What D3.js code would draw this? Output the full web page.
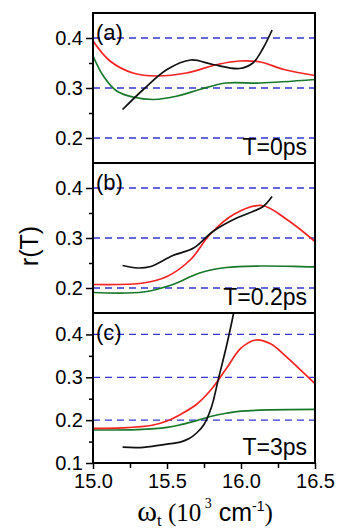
<!DOCTYPE html>
<meta charset="utf-8">
<script src="https://cdn.jsdelivr.net/npm/d3@7"></script>
<style>
body { margin: 0; background: #fff; }
svg text { font-family: "Liberation Sans", Arial, sans-serif; fill: #000; }
.axis path, .axis line { stroke: #000; stroke-width: 1.5px; }
.axis text { font-size: 20px; }
.grid { stroke: #3535d0; stroke-width: 1.3px; stroke-dasharray: 7,5; }
.curve { fill: none; stroke-width: 1.7px; }
</style>
<body>
<script>

// x values in 10^3 cm^-1, y values r(T)
var xTicks = [15.0, 15.5, 16.0, 16.5],
    xMinor = [15.25, 15.75, 16.25],
    gridVals = [0.2, 0.3, 0.4];

// panel (a) T=0ps
var redA = [[15.0,0.394],[15.115,0.354],[15.27,0.330],[15.43,0.324],[15.63,0.330],[15.84,0.347],[15.99,0.354],[16.13,0.352],[16.29,0.337],[16.5,0.325]];
var greenA = [[15.0,0.364],[15.07,0.324],[15.16,0.294],[15.27,0.282],[15.41,0.277],[15.57,0.284],[15.72,0.297],[15.9,0.310],[16.13,0.310],[16.5,0.317]];
var blackA = [[15.2,0.257],[15.34,0.297],[15.5,0.337],[15.66,0.356],[15.81,0.347],[15.99,0.339],[16.08,0.350],[16.15,0.380],[16.21,0.416]];

// panel (b) T=0.2ps
var redB = [[15.0,0.207],[15.34,0.210],[15.5,0.223],[15.66,0.257],[15.79,0.307],[15.95,0.347],[16.14,0.365],[16.31,0.337],[16.5,0.293]];
var greenB = [[15.0,0.191],[15.34,0.192],[15.54,0.207],[15.72,0.230],[15.9,0.241],[16.13,0.244],[16.5,0.242]];
var blackB = [[15.2,0.245],[15.3,0.240],[15.39,0.243],[15.54,0.265],[15.68,0.280],[15.81,0.313],[15.95,0.337],[16.08,0.353],[16.15,0.363],[16.21,0.383]];

// panel (c) T=3ps
var redC = [[15.0,0.181],[15.2,0.182],[15.4,0.188],[15.5,0.198],[15.6,0.215],[15.7,0.237],[15.8,0.272],[15.9,0.320],[16.0,0.368],[16.1,0.387],[16.2,0.378],[16.3,0.350],[16.4,0.318],[16.5,0.285]];
var greenC = [[15.0,0.177],[15.3,0.178],[15.5,0.183],[15.6,0.190],[15.7,0.199],[15.8,0.209],[15.9,0.216],[16.0,0.221],[16.2,0.224],[16.5,0.225]];
var blackC = [[15.2,0.137],[15.3,0.136],[15.4,0.139],[15.5,0.144],[15.6,0.150],[15.65,0.157],[15.7,0.170],[15.75,0.190],[15.8,0.230],[15.85,0.300],[15.9,0.370],[15.95,0.450],[15.97,0.490]];

var panels = [
  {id: "a", label: "(a)", title: "T=0ps", yDomain: [0.15, 0.45], yTicks: [0.2, 0.3, 0.4], yMinor: [0.25, 0.35], red: redA, green: greenA, black: blackA},
  {id: "b", label: "(b)", title: "T=0.2ps", yDomain: [0.15, 0.45], yTicks: [0.2, 0.3, 0.4], yMinor: [0.25, 0.35], red: redB, green: greenB, black: blackB},
  {id: "c", label: "(c)", title: "T=3ps", yDomain: [0.1, 0.45], yTicks: [0.1, 0.2, 0.3, 0.4], yMinor: [0.15, 0.25, 0.35], red: redC, green: greenC, black: blackC}
];

var w = 339, h = 531,
    padLeft = 93, padRight = 315, padTop = 13, panelH = 150;

var svg = d3.select("body").append("svg")
    .attr("width", w)
    .attr("height", h);

var x = d3.scaleLinear().domain([15.0, 16.5]).range([padLeft, padRight]);

var line = d3.line().curve(d3.curveCatmullRom.alpha(0.5));

panels.forEach(function(p, i) {
  var y0 = padTop + i * panelH;
  var y = d3.scaleLinear().domain(p.yDomain).range([y0 + panelH, y0]);
  line.x(function(d) { return x(d[0]); }).y(function(d) { return y(d[1]); });

  svg.append("clipPath").attr("id", "clip" + p.id)
    .append("rect").attr("x", padLeft).attr("y", y0).attr("width", padRight - padLeft).attr("height", panelH);

  var g = svg.append("g");

  g.selectAll(".grid").data(gridVals).enter().append("line")
    .attr("class", "grid")
    .attr("x1", padLeft).attr("x2", padRight)
    .attr("y1", function(d) { return y(d); })
    .attr("y2", function(d) { return y(d); });

  var cg = g.append("g").attr("clip-path", "url(#clip" + p.id + ")");
  cg.append("path").datum(p.green).attr("class", "curve").attr("stroke", "#17782b").attr("stroke-width", 2.2).attr("d", line);
  cg.append("path").datum(p.red).attr("class", "curve").attr("stroke", "#f52222").attr("d", line);
  cg.append("path").datum(p.black).attr("class", "curve").attr("stroke", "#111").attr("d", line);

  // y axis: major + minor
  g.append("g").attr("class", "axis")
    .attr("transform", "translate(" + padLeft + ",0)")
    .call(d3.axisLeft(y).tickValues(p.yTicks).tickSize(7).tickPadding(3).tickFormat(d3.format(".1f")))
    .call(function(s) { s.select(".domain").remove(); });
  g.append("g").attr("class", "axis")
    .attr("transform", "translate(" + padLeft + ",0)")
    .call(d3.axisLeft(y).tickValues(p.yMinor).tickSize(4).tickFormat(""))
    .call(function(s) { s.select(".domain").remove(); });

  // frame
  g.append("rect")
    .attr("x", padLeft).attr("y", y0)
    .attr("width", padRight - padLeft).attr("height", panelH)
    .attr("fill", "none").attr("stroke", "#000").attr("stroke-width", 2);

  g.append("text")
    .attr("x", padLeft + 3).attr("y", y0 + 27)
    .style("font-size", "22px")
    .text(p.label);

  g.append("text")
    .attr("x", 307).attr("y", y0 + 142)
    .attr("text-anchor", "end")
    .style("font-size", "23px")
    .text(p.title);

  if (i == 2) {
    g.append("g").attr("class", "axis")
      .attr("transform", "translate(0," + (y0 + panelH) + ")")
      .call(d3.axisBottom(x).tickValues(xTicks).tickSize(6).tickPadding(5).tickFormat(d3.format(".1f")))
      .call(function(s) { s.select(".domain").remove(); });
    g.append("g").attr("class", "axis")
      .attr("transform", "translate(0," + (y0 + panelH) + ")")
      .call(d3.axisBottom(x).tickValues(xMinor).tickSize(5).tickFormat(""))
      .call(function(s) { s.select(".domain").remove(); });
  }
});

// axis titles
svg.append("text")
  .attr("transform", "translate(38,246) rotate(-90)")
  .attr("text-anchor", "middle")
  .style("font-size", "25px")
  .text("r(T)");

var xl = svg.append("text")
  .attr("x", 205).attr("y", 521)
  .attr("text-anchor", "middle")
  .style("font-size", "25px");
xl.append("tspan").style("font-family", "'Liberation Serif', serif").style("font-size", "30px").text("ω");
xl.append("tspan").style("font-family", "'Liberation Serif', serif").style("font-size", "17px").attr("dy", 5).text("t");
xl.append("tspan").style("font-family", "'Liberation Serif', serif").attr("dy", -5).text(" (10");
xl.append("tspan").style("font-family", "'Liberation Serif', serif").style("font-size", "14px").attr("dy", -13).text(" 3");
xl.append("tspan").attr("dy", 13).text(" cm");
xl.append("tspan").style("font-size", "14px").attr("dy", -10).text("-1");
xl.append("tspan").style("font-family", "'Liberation Serif', serif").attr("dy", 10).text(")");

</script>
</body>
